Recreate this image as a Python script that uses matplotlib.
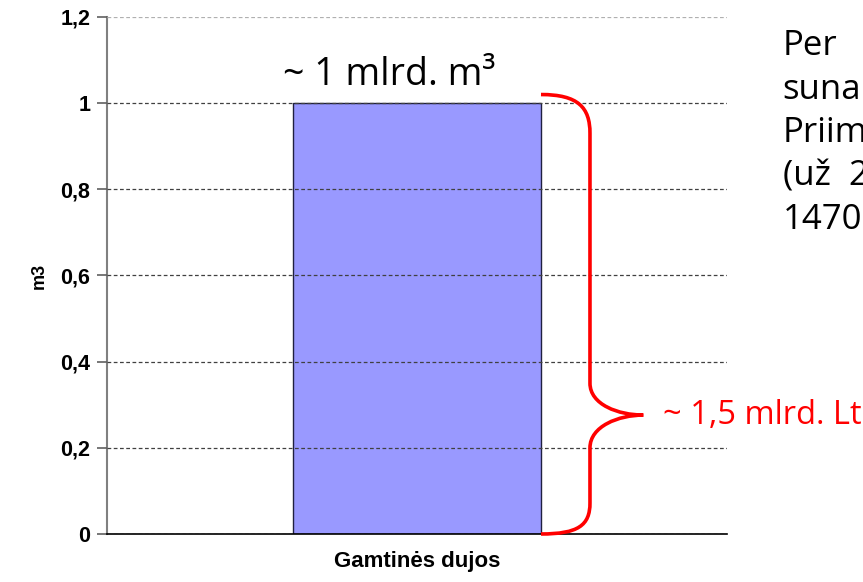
import numpy as np
import matplotlib.pyplot as plt
from matplotlib.path import Path
from matplotlib.patches import PathPatch

# data
categories = ['Gamtinės dujos']
values = [1.0]
yticks = [0, 0.2, 0.4, 0.6, 0.8, 1, 1.2]
ytick_labels = ['0', '0,2', '0,4', '0,6', '0,8', '1', '1,2']
bar_label = '~ 1 mlrd. m³'
brace_label = '~ 1,5 mlrd. Lt'
side_lines = ['Per', 'suna', 'Priim', '(už  2', '1470']

fig = plt.figure(figsize=(8.63, 5.82), dpi=100)
ax = fig.add_axes([0.124, 0.0825, 0.7184, 0.8883])

x = np.arange(len(categories))
bw = 0.4
ax.bar(x, values, width=bw, color='#9999FF', edgecolor='#202040', linewidth=1, zorder=2)

ax.set_xlim(-0.5, 0.5)
ax.set_ylim(0, 1.2)
ax.set_yticks(yticks)
ax.set_yticklabels(ytick_labels, fontsize=15.5, fontweight='bold', family='Liberation Sans')
ax.set_xticks(x)
ax.set_xticklabels(categories, fontsize=16, fontweight='bold', family='Liberation Sans')
ax.tick_params(axis='x', length=0, pad=12)
ax.tick_params(axis='y', length=7, width=1.2, color='#606060', pad=5)
ax.set_ylabel('m3', fontsize=13, fontweight='bold', family='Liberation Sans')
ax.yaxis.set_label_coords(-0.095, 0.5)

ax.yaxis.grid(True, linestyle=(0, (3, 2)), color='#404040', linewidth=0.9, zorder=3)
ax.get_ygridlines()[-1].set_color('#b0b0b0')
ax.set_axisbelow(False)
for s in ['top', 'right']:
    ax.spines[s].set_visible(False)
ax.spines['left'].set_color('#808080')
ax.spines['left'].set_linewidth(1.5)
ax.spines['bottom'].set_color('black')
ax.spines['bottom'].set_linewidth(1.2)
ax.spines['bottom'].set_zorder(4)

# label above bar
ax.text(x[0] - 0.044, values[0] + 0.042, bar_label, fontsize=27, family='Open Sans',
        ha='center', va='baseline')

# red brace from bar top right corner to bottom
x0 = x[0] + bw / 2
xv = x0 + 0.079
xt = x0 + 0.165
ytop = values[0] + 0.02
ytip = 0.276
verts = [
    (x0, ytop),
    (x0 + 0.06, ytop), (xv, ytop - 0.03), (xv, ytop - 0.09),
    (xv, 0.35),
    (xv, 0.30), (xt - 0.04, ytip), (xt, ytip),
    (xt - 0.04, ytip), (xv, 0.25), (xv, 0.20),
    (xv, 0.072),
    (xv, 0.02), (x0 + 0.06, 0), (x0, 0),
]
codes = [Path.MOVETO,
         Path.CURVE4, Path.CURVE4, Path.CURVE4,
         Path.LINETO,
         Path.CURVE4, Path.CURVE4, Path.CURVE4,
         Path.CURVE4, Path.CURVE4, Path.CURVE4,
         Path.LINETO,
         Path.CURVE4, Path.CURVE4, Path.CURVE4]
ax.add_patch(PathPatch(Path(verts, codes), facecolor='none', edgecolor='red',
                       linewidth=2.6, zorder=5, clip_on=False))
ax.text(xt + 0.032, ytip, brace_label, fontsize=23.5, family='Open Sans', color='red',
        ha='left', va='center', clip_on=False)

# text from the slide, cut off at the right edge as in the original
for i, line in enumerate(side_lines):
    fig.text(0.907, 0.905 - i * 0.0747, line, fontsize=25, family='Open Sans',
             ha='left', va='baseline')

fig.savefig('out.png', dpi=100)
